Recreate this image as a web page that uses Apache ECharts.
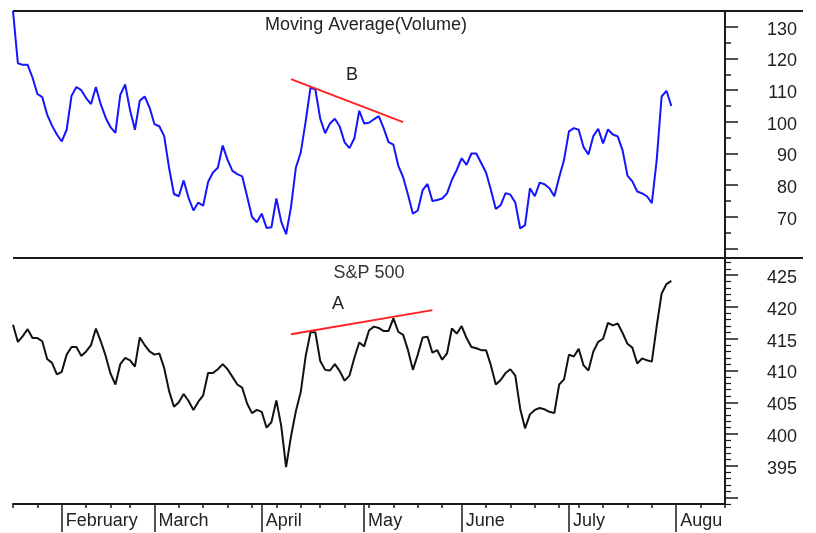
<!DOCTYPE html>
<html>
<head>
<meta charset="utf-8">
<script src="https://cdn.jsdelivr.net/npm/echarts@6/dist/echarts.min.js"></script>
<style>html,body{margin:0;padding:0;background:#fff;}#c{width:816px;height:533px;}</style>
</head>
<body>
<div id="c"></div>
<script>
// Trading days, 1992 (MM-DD)
const dates = [
'01-20','01-21','01-22','01-23','01-24','01-27','01-28','01-29','01-30','01-31',
'02-03','02-04','02-05','02-06','02-07','02-10','02-11','02-12','02-13','02-14','02-18','02-19','02-20','02-21','02-24','02-25','02-26','02-27','02-28',
'03-02','03-03','03-04','03-05','03-06','03-09','03-10','03-11','03-12','03-13','03-16','03-17','03-18','03-19','03-20','03-23','03-24','03-25','03-26','03-27','03-30','03-31',
'04-01','04-02','04-03','04-06','04-07','04-08','04-09','04-10','04-13','04-14','04-15','04-16','04-20','04-21','04-22','04-23','04-24','04-27','04-28','04-29','04-30',
'05-01','05-04','05-05','05-06','05-07','05-08','05-11','05-12','05-13','05-14','05-15','05-18','05-19','05-20','05-21','05-22','05-26','05-27','05-28','05-29',
'06-01','06-02','06-03','06-04','06-05','06-08','06-09','06-10','06-11','06-12','06-15','06-16','06-17','06-18','06-19','06-22','06-23','06-24','06-25','06-26','06-29','06-30',
'07-01','07-02','07-06','07-07','07-08','07-09','07-10','07-13','07-14','07-15','07-16','07-17','07-20','07-21','07-22','07-23','07-24','07-27','07-28','07-29','07-30','07-31',
'08-03','08-04','08-05','08-06','08-07','08-10','08-11','08-12','08-13','08-14','08-17'
];

// Moving Average (Volume)
const volumeMA = [
135,118.5,118,118,114,108.8,107.8,102.3,98.8,96,
93.8,97.5,108.2,111,110,107.5,105.6,111,105.5,101.3,98.3,96.5,108.5,111.8,103.7,97.5,106.7,108,104.5,
99.3,98.6,95.5,85.5,77.2,76.5,81.5,76,72,74.5,73.5,81,84,85.5,92.5,88,84.5,83.5,82.8,76.5,70,68.3,
71,66.5,66.7,75.8,68.5,64.5,73,85.5,90.3,100,110.8,110.2,101,96.4,99.5,101,98.5,93.5,91.7,94.8,103.5,
99.5,99.7,100.8,101.8,98,93.6,92.8,86.2,82.5,77,71,72,78.4,80.4,75,75.3,75.8,77.4,81.7,84.8,
88.5,86.4,90,90,87,84,78.5,72.5,73.7,77.5,77,74.5,66.3,67.4,79,76.5,80.8,80.3,79,76.5,82.5,88,
97,98,97.5,92,89.7,95.5,97.8,93.2,97.6,96,95.4,91,83,81.2,78,77.4,76.5,74.3,88,108,109.8,105
];

// S&P 500
const spx = [
417.2,414.5,415.4,416.5,415.1,415.1,414.6,411.8,411.2,409.4,
409.8,412.5,413.7,413.7,412.3,413,414,416.6,414.6,412.3,409.5,407.8,411,412,411.6,410.6,415.2,414,413,
412.5,412.7,410.4,406.8,404.3,405,406.3,405.2,403.8,405.1,406.1,409.6,409.6,410.2,411,410.2,409,407.8,407.3,404.8,403.3,403.8,
403.5,401,401.9,405.3,401.3,394.8,399.6,403.6,406.6,412.2,416,416,411.5,410.1,410,411,409.9,408.4,409.2,412,414.4,
413.8,416.3,416.9,416.7,416.2,416.2,418.2,416.1,415.6,413.2,410.1,412.5,415.2,415.3,412.8,413.2,411.7,412.7,416.6,415.8,
417,415.1,413.7,413.5,413.2,413.2,410.8,407.8,408.5,409.6,410.2,409.2,404,400.9,403.1,403.8,404.1,403.9,403.5,403.3,407.8,408.6,
412.5,412.2,413.4,410.8,410,413,414.5,415,417.5,417.1,417.4,415.9,414.2,413.6,411.1,411.9,411.6,411.4,417,422.1,423.6,424.1
];

const monthNames = {'02':'February','03':'March','04':'April','05':'May','06':'June','07':'July','08':'Augu'};

const volTicksMajor = [60,70,80,90,100,110,120,130];
const volTicksMinor = [65,75,85,95,105,115,125];
const volLabels = [70,80,90,100,110,120,130];
const spxTicksMajor = [390,395,400,405,410,415,420,425];
const spxTicksMinor = [389,391,392,393,394,396,397,398,399,401,402,403,404,406,407,408,409,411,412,413,414,416,417,418,419,421,422,423,424,426,427];
const spxLabels = [395,400,405,410,415,420,425];

// Trend lines (category, value)
const trendB = [['04-09',113.5],['05-13',99.9]];
const trendA = [['04-09',415.7],['05-21',419.5]];

const FONT = '"Liberation Sans", Arial, sans-serif';
const INK = '#1a1a1a';

function isMonthStart(i){
  return i > 0 && dates[i].slice(0,2) !== dates[i-1].slice(0,2);
}
function weekday(s){
  return new Date(1992, parseInt(s.slice(0,2),10)-1, parseInt(s.slice(3,5),10)).getDay();
}
function isWeekStart(i){
  return i === 0 || weekday(dates[i]) <= weekday(dates[i-1]);
}

const chart = echarts.init(document.getElementById('c'), null, {renderer:'canvas'});
chart.setOption({
  animation: false,
  backgroundColor: '#fff',
  grid: [
    {left: 13, right: 91, top: 11, height: 247},
    {left: 13, right: 91, top: 258, bottom: 29}
  ],
  xAxis: [
    {type:'category', gridIndex:0, data:dates, boundaryGap:false, show:false},
    {type:'category', gridIndex:1, data:dates, boundaryGap:false, position:'bottom',
      axisLine:{show:true, lineStyle:{color:INK, width:2}},
      axisTick:{show:true, interval:(i)=>isMonthStart(i), length:28, lineStyle:{color:INK, width:1.5}},
      axisLabel:{show:true, interval:(i)=>isMonthStart(i), formatter:(v)=>monthNames[v.slice(0,2)] || '',
        align:'left', verticalAlign:'top', padding:[0,0,0,4], margin:8,
        fontFamily:FONT, fontSize:18, color:'#222'},
      splitLine:{show:false}
    },
    {type:'category', gridIndex:1, data:dates, boundaryGap:false, position:'bottom',
      axisLine:{show:false},
      axisTick:{show:true, interval:(i)=>isWeekStart(i), length:4, lineStyle:{color:INK, width:1.5}},
      axisLabel:{show:false}, splitLine:{show:false}
    }
  ],
  yAxis: [
    {type:'value', gridIndex:0, position:'right', min:57, max:135,
      axisLine:{show:true, lineStyle:{color:INK, width:2}},
      axisTick:{show:true, customValues:volTicksMajor, length:13, lineStyle:{color:INK, width:1.5}},
      axisLabel:{show:true, customValues:volLabels, align:'right', margin:72, verticalAlign:'top', lineHeight:6,
        fontFamily:FONT, fontSize:18, color:'#222'},
      splitLine:{show:false}
    },
    {type:'value', gridIndex:0, position:'right', min:57, max:135,
      axisLine:{show:false},
      axisTick:{show:true, customValues:volTicksMinor, length:6, lineStyle:{color:INK, width:1.5}},
      axisLabel:{show:false}, splitLine:{show:false}
    },
    {type:'value', gridIndex:1, position:'right', min:389, max:427.7,
      axisLine:{show:true, lineStyle:{color:INK, width:2}},
      axisTick:{show:true, customValues:spxTicksMajor, length:13, lineStyle:{color:INK, width:1.5}},
      axisLabel:{show:true, customValues:spxLabels, align:'right', margin:72, verticalAlign:'top', lineHeight:6,
        fontFamily:FONT, fontSize:18, color:'#222'},
      splitLine:{show:false}
    },
    {type:'value', gridIndex:1, position:'right', min:389, max:427.7,
      axisLine:{show:false},
      axisTick:{show:true, customValues:spxTicksMinor, length:6, lineStyle:{color:INK, width:1.2}},
      axisLabel:{show:false}, splitLine:{show:false}
    }
  ],
  series: [
    {type:'line', name:'Moving Average(Volume)', xAxisIndex:0, yAxisIndex:0, data:volumeMA,
      showSymbol:false, symbol:'none', lineStyle:{color:'#1414ff', width:2}, z:3,
      markLine:{silent:true, symbol:['none','none'], label:{show:false},
        lineStyle:{color:'#f22', width:2, type:'solid'},
        data:[[{coord:trendB[0]},{coord:trendB[1]}]]}
    },
    {type:'line', name:'S&P 500', xAxisIndex:1, yAxisIndex:2, data:spx,
      showSymbol:false, symbol:'none', lineStyle:{color:'#111', width:2}, z:3,
      markLine:{silent:true, symbol:['none','none'], label:{show:false},
        lineStyle:{color:'#f22', width:2, type:'solid'},
        data:[[{coord:trendA[0]},{coord:trendA[1]}]]}
    }
  ],
  graphic: [
    {type:'line', z:100, shape:{x1:13, y1:11, x2:803, y2:11}, style:{stroke:INK, lineWidth:2}},
    {type:'line', z:100, shape:{x1:13, y1:258, x2:803, y2:258}, style:{stroke:INK, lineWidth:2}},
    {type:'text', z:100, x:366, y:25, style:{text:'Moving Average(Volume)', font:'18px ' + FONT, fill:'#222', align:'center', verticalAlign:'middle'}},
    {type:'text', z:100, x:369, y:273, style:{text:'S&P 500', font:'18px ' + FONT, fill:'#333', align:'center', verticalAlign:'middle'}},
    {type:'text', z:100, x:352, y:75, style:{text:'B', font:'18px ' + FONT, fill:'#222', align:'center', verticalAlign:'middle'}},
    {type:'text', z:100, x:338, y:304, style:{text:'A', font:'18px ' + FONT, fill:'#222', align:'center', verticalAlign:'middle'}}
  ]
});
</script>
</body>
</html>
